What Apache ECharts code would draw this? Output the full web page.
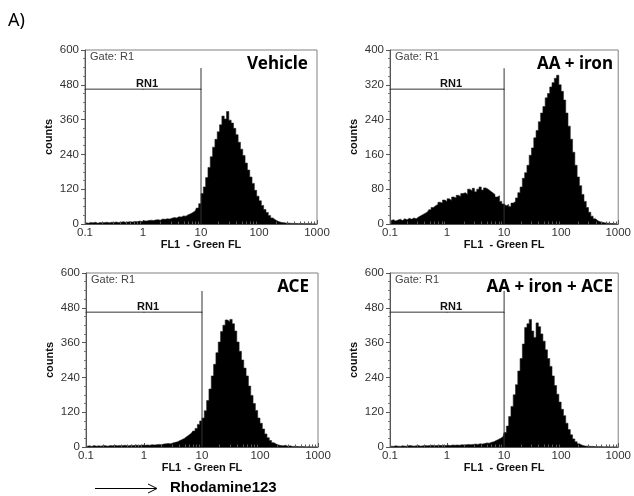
<!DOCTYPE html>
<html><head><meta charset="utf-8">
<script src="https://cdn.jsdelivr.net/npm/echarts/dist/echarts.min.js"></script>
<style>html,body{margin:0;padding:0;background:#fff}#c{width:634px;height:496px}</style>
</head><body><div id="c"></div><script>
// ---- data ----
const titles = ['Vehicle', 'AA + iron', 'ACE', 'AA + iron + ACE'];
const xTickLabels = [0.1, 1, 10, 100, 1000];
const minorTickValues = [0.2,0.3,0.4,0.5,0.6,0.7,0.8,0.9, 2,3,4,5,6,7,8,9, 20,30,40,50,60,70,80,90, 200,300,400,500,600,700,800,900];
const yMaxes = [600, 400, 600, 600];
const yIntervals = [120, 80, 120, 120];
const gateX = [0.1, 1, 10];          // gate RN1 spans 0.1 – 10, label at its centre
const gateLevels = [465, 310, 465, 465];
const gateTops = [538, 358, 538, 538];
// histogram counts, 25 channels per decade from 0.1 to 1000
const vehicle = [
 4,3,5,4,6,3,5,4,5,6, 4,6,5,7,5,6,8,6,7,8, 7,9,8,10,9,
 11,10,12,13,12, 14,15,13,17,16, 18,17,20,22,21, 25,24,28,27,32, 35,40,45,55,70,
 105,128,160,195,232, 265,292,318,342,372, 362,388,358,348,330, 308,282,258,236,210,
 186,162,140,116,96, 80,64,50,40,29, 21,15,10,7,5, 4,3,3,2,2,
 2,1,2,1,1,1,1,0,1,0];
const aaIron = [
 8,10,7,9,11,8,12,10,13,11, 14,12,16,19,22,25,28,33,38,42, 45,50,48,55,52,
 58,54,62,60,66, 63,70,72,68,80, 76,82,74,80,85, 78,83,80,76,72, 68,62,65,52,46,
 42,45,40,48,52, 60,72,85,105,118, 135,158,175,198,215, 235,255,270,290,300,
 315,325,335,342,320, 305,285,255,225,195, 165,135,108,88,68, 52,38,27,18,12,
 8,5,4,3,2, 2,1,1,1,0];
const ace = [
 3,4,2,5,3,4,3,5,4,3, 5,4,6,4,5,4,6,5,4,6, 5,7,5,6,7,
 6,7,6,8,7, 8,9,8,10,11, 12,11,14,16,18, 22,26,30,36,42, 48,55,64,78,90,
 100,125,160,200,245, 285,325,362,398,420, 438,432,440,425,400, 362,330,300,272,245,
 210,178,150,126,100, 82,62,45,32,22, 15,10,7,5,4, 6,3,4,2,2,
 2,1,1,1,0, 1,0,0,0,0];
const aaIronAce = [
 3,2,4,3,2,4,3,3,5,4, 3,4,5,3,4,5,4,5,6,4, 5,6,5,6,5,
 6,5,7,6,7, 6,8,7,8,9, 8,9,10,9,11, 10,12,14,13,16, 18,22,26,30,35,
 50,72,105,140,180, 215,262,305,355,412, 425,440,400,378,428, 415,390,365,335,305,
 278,245,212,182,155, 130,108,82,60,42, 28,18,11,7,4, 3,3,2,2,1,
 1,1,1,0,1, 0,0,0,0,0];
const histograms = [vehicle, aaIron, ace, aaIronAce];

// ---- layout ----
const gridPos = [
  {left: 85, top: 50}, {left: 390, top: 50},
  {left: 86, top: 273}, {left: 390, top: 273}
];
const GW = 232, GH = 174;
const channels = vehicle.map((_, i) => 'ch' + i);
const LINE = '#555';
const AX_FONT = 'Liberation Sans, Arial, sans-serif';

const grid = [], xAxis = [], yAxis = [], series = [], graphic = [];
gridPos.forEach((g, i) => {
  grid.push({left: g.left, top: g.top, width: GW, height: GH, show: true,
    borderColor: '#808080', borderWidth: 1, backgroundColor: 'transparent'});
  xAxis.push({type: 'category', gridIndex: i, data: channels, show: false,
    position: 'bottom', boundaryGap: true});
  xAxis.push({type: 'log', gridIndex: i, logBase: 10, min: 0.1, max: 1000,
    position: 'bottom',
    axisLine: {show: true, onZero: false, lineStyle: {color: LINE, width: 1}},
    axisTick: {show: true, inside: true, length: 4, lineStyle: {color: LINE}},
    axisLabel: {fontSize: 11.5, color: '#333', margin: 3, fontFamily: AX_FONT,
      formatter: v => String(Number(Number(v).toPrecision(6)))},
    splitLine: {show: false},
    name: 'FL1  - Green FL', nameLocation: 'middle', nameGap: 13,
    nameTextStyle: {fontSize: 11, fontWeight: 'bold', color: '#111', fontFamily: AX_FONT,
      verticalAlign: 'top'}});
  yAxis.push({type: 'value', gridIndex: i, min: 0, max: yMaxes[i], interval: yIntervals[i],
    axisLine: {show: true, onZero: false, lineStyle: {color: LINE, width: 1}},
    axisTick: {show: true, length: 4, lineStyle: {color: LINE}},
    minorTick: {show: true, splitNumber: 4, length: 2, lineStyle: {color: '#777'}},
    axisLabel: {fontSize: 11.5, color: '#333', margin: 6, fontFamily: AX_FONT},
    splitLine: {show: false},
    name: 'counts', nameLocation: 'middle', nameGap: 31,
    nameTextStyle: {fontSize: 11, fontWeight: 'bold', color: '#111', fontFamily: AX_FONT}});

  series.push({type: 'line', xAxisIndex: 2 * i, yAxisIndex: i, data: histograms[i],
    step: 'middle', symbol: 'none', silent: true, animation: false,
    lineStyle: {color: '#222', width: 0.6}, areaStyle: {color: '#000', opacity: 1}, z: 2});
  const gl = gateLevels[i];
  series.push({type: 'line', xAxisIndex: 2 * i + 1, yAxisIndex: i,
    symbol: 'circle', symbolSize: 1, showSymbol: true, showAllSymbol: true,
    itemStyle: {color: '#333'},
    silent: true, animation: false, lineStyle: {color: '#333', width: 1}, z: 3,
    data: gateX.map((x, k) => k === 1
      ? {value: [x, gl], label: {show: true, position: 'top', distance: -1, offset: [4, 0],
          formatter: 'RN1', fontSize: 11, fontWeight: 'bold', color: '#111', fontFamily: AX_FONT}}
      : [x, gl])});
  series.push({type: 'line', xAxisIndex: 2 * i + 1, yAxisIndex: i, symbol: 'none',
    silent: true, animation: false, lineStyle: {color: '#333', width: 1}, z: 3,
    data: [[gateX[2], 0], [gateX[2], gateTops[i]]]});
  series.push({type: 'custom', xAxisIndex: 2 * i + 1, yAxisIndex: i, silent: true,
    animation: false, z: 4, data: minorTickValues.map(v => [v, 0]),
    renderItem: (params, api) => {
      const p = api.coord([api.value(0), 0]);
      const x = Math.round(p[0]) + 0.5;
      return {type: 'line', shape: {x1: x, y1: p[1], x2: x, y2: p[1] - 2.5},
        style: {stroke: LINE, lineWidth: 1}};
    }});

  graphic.push({type: 'text', x: g.left + 5, y: g.top + 7,
    style: {text: 'Gate: R1', fontSize: 11, fill: '#444', fontFamily: AX_FONT,
      textVerticalAlign: 'middle'}});
  graphic.push({type: 'text', x: g.left + 223, y: g.top + 14,
    style: {text: titles[i], fontSize: 17, fontWeight: 'bold', fill: '#000',
      fontFamily: 'Noto Sans, sans-serif', textAlign: 'right', textVerticalAlign: 'middle'}});
});

graphic.push({type: 'text', x: 8, y: 21,
  style: {text: 'A)', fontSize: 18, fill: '#000', fontFamily: 'Noto Sans, sans-serif',
    textVerticalAlign: 'middle'}});
graphic.push({type: 'line', shape: {x1: 95, y1: 488.5, x2: 156, y2: 488.5},
  style: {stroke: '#000', lineWidth: 1}});
graphic.push({type: 'polyline', shape: {points: [[148, 484], [157, 488.5], [148, 493]]},
  style: {stroke: '#000', lineWidth: 1, fill: null}});
graphic.push({type: 'text', x: 170, y: 488,
  style: {text: 'Rhodamine123', fontSize: 15, fontWeight: 'bold', fill: '#000',
    fontFamily: AX_FONT, textVerticalAlign: 'middle'}});

const chart = echarts.init(document.getElementById('c'), null, {renderer: 'canvas'});
chart.setOption({animation: false, backgroundColor: '#fff', grid, xAxis, yAxis, series, graphic});
</script></body></html>
